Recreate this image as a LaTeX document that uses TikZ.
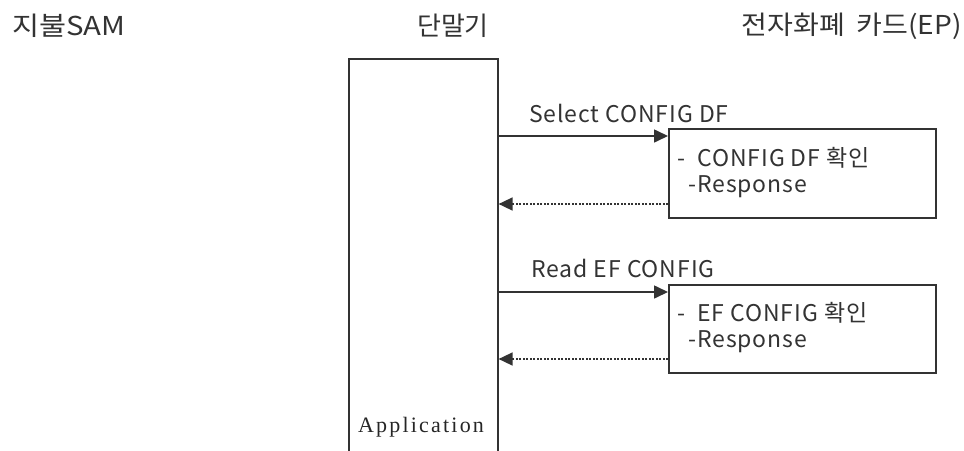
\documentclass[tikz,border=0pt]{standalone}
\usepackage{fontspec}
\setmainfont{Noto Sans CJK KR}
\newfontfamily\appf{Liberation Serif}
\usetikzlibrary{arrows.meta}
\tikzset{
  ln/.style={draw=black!80, line width=1.6pt},
  hdr/.style={font=\fontsize{26}{30}\selectfont, inner sep=0pt, text=black!80},
  lbl/.style={font=\fontsize{23}{27}\selectfont\addfontfeature{LetterSpace=4}, inner sep=0pt, anchor=west, text=black!80},
  card/.style={ln, fill=white, anchor=north west, minimum width=267pt, inner sep=0pt},
  req/.style={ln, -{Triangle[length=14pt,width=13pt]}},
  resp/.style={ln, dash pattern=on 2pt off 1.5pt, -{Triangle[length=14pt,width=13pt]}},
}
\begin{document}
\begin{tikzpicture}[x=1pt,y=-1pt]
\useasboundingbox (0,0) rectangle (964,450);
\node[hdr, anchor=west, font=\fontsize{26}{30}\selectfont\addfontfeature{FakeStretch=1.13}] (hsam) at (12,26) {지불SAM};
\node[hdr] (hterm) at (453,26) {단말기};
\node[hdr, anchor=east, font=\fontsize{26}{30}\selectfont\addfontfeature{FakeStretch=1.08}] (hcard) at (962,26) {전자화폐\hspace{12pt}카드(EP)};

\node[ln, anchor=north west, minimum width=149pt, minimum height=420pt, inner sep=0pt] (term) at (348,58) {};
\node[font=\appf\fontsize{22}{26}\selectfont\addfontfeature{LetterSpace=10}, inner sep=0pt, text=black!85] (app) at (421,427) {Application};

\node[card, minimum height=89pt] (card1) at (668,128) {};
\node[card, minimum height=88pt] (card2) at (668,284) {};

\node[lbl] (t1) at (677,158) {-\ \ CONFIG DF 확인};
\node[lbl] (r1) at (688,187) {-Response};
\node[lbl] (t2) at (677,313) {-\ \ EF CONFIG 확인};
\node[lbl] (r2) at (688,342) {-Response};

\coordinate (y1) at (0,136);
\coordinate (y2) at (0,204);
\coordinate (y3) at (0,292);
\coordinate (y4) at (0,359);

\draw[req] (term.east |- y1) -- node[lbl, pos=0.175, yshift=23pt] (m1) {Select CONFIG DF} (card1.west |- y1);
\draw[resp] (card1.west |- y2) -- (term.east |- y2);
\draw[req] (term.east |- y3) -- node[lbl, pos=0.187, yshift=24pt] (m2) {Read EF CONFIG} (card2.west |- y3);
\draw[resp] (card2.west |- y4) -- (term.east |- y4);
\end{tikzpicture}
\end{document}
